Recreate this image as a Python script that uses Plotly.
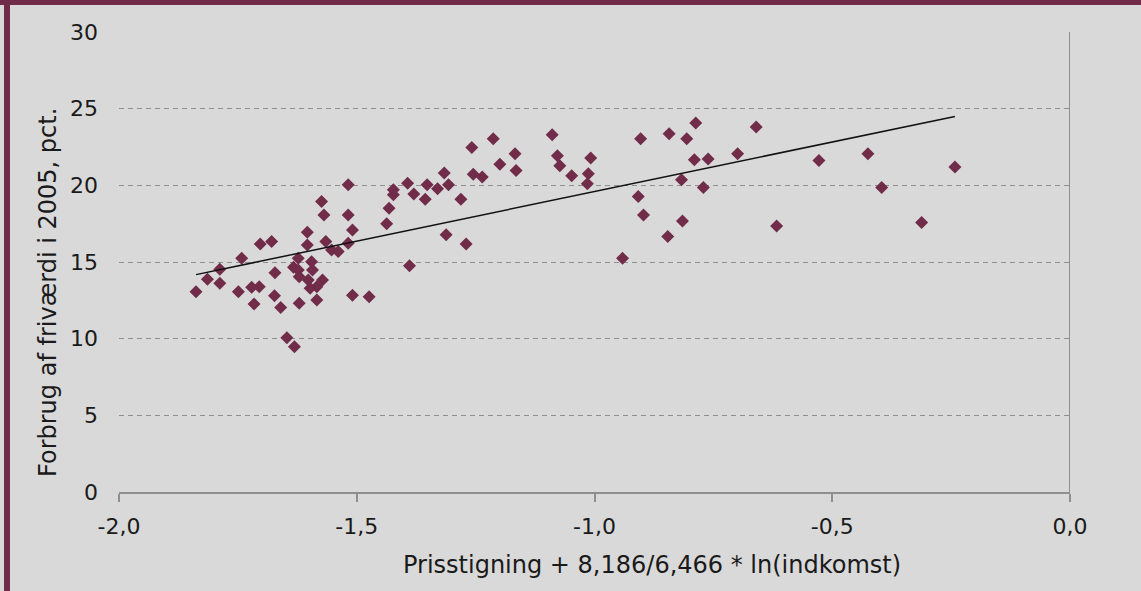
import numpy as np
import plotly.graph_objects as go

# Price growth adjusted for income (x) vs. equity withdrawal in 2005, pct. (y)
prisstigning = [
    -1.838, -1.814, -1.788, -1.788, -1.742, -1.749, -1.703, -1.679, -1.721, -1.705,
    -1.716, -1.672, -1.673, -1.660, -1.647, -1.631, -1.623, -1.633, -1.623, -1.621,
    -1.621, -1.604, -1.604, -1.595, -1.593, -1.602, -1.598, -1.584, -1.584, -1.572,
    -1.574, -1.569, -1.565, -1.553, -1.539, -1.518, -1.518, -1.509, -1.509, -1.518,
    -1.474, -1.437, -1.432, -1.423, -1.423, -1.393, -1.380, -1.389, -1.356, -1.352,
    -1.330, -1.316, -1.307, -1.312, -1.281, -1.270, -1.258, -1.255, -1.236, -1.213,
    -1.199, -1.167, -1.165, -1.089, -1.078, -1.073, -1.048, -1.008, -1.013, -1.015,
    -0.903, -0.908, -0.897, -0.941, -0.843, -0.806, -0.787, -0.790, -0.761, -0.817,
    -0.771, -0.815, -0.846, -0.699, -0.660, -0.617, -0.528, -0.425, -0.396, -0.312,
    -0.242,
]
forbrug = [
    13.06, 13.87, 14.53, 13.61, 15.24, 13.06, 16.18, 16.33, 13.35, 13.39,
    12.26, 14.30, 12.80, 12.04, 10.06, 9.47, 15.24, 14.66, 14.48, 14.04,
    12.31, 16.94, 16.11, 15.02, 14.48, 13.83, 13.29, 13.39, 12.52, 13.83,
    18.94, 18.07, 16.33, 15.79, 15.68, 20.03, 18.07, 12.83, 17.09, 16.22,
    12.74, 17.49, 18.51, 19.38, 19.71, 20.14, 19.44, 14.76, 19.10, 20.03,
    19.77, 20.80, 20.03, 16.77, 19.10, 16.18, 22.47, 20.73, 20.54, 23.04,
    21.38, 22.06, 20.97, 23.30, 21.93, 21.27, 20.62, 21.78, 20.75, 20.10,
    23.04, 19.27, 18.07, 15.24, 23.36, 23.04, 24.06, 21.67, 21.71, 20.36,
    19.86, 17.68, 16.66, 22.06, 23.80, 17.35, 21.62, 22.06, 19.86, 17.57,
    21.19,
]

# Fitted trend: forbrug = TREND_INTERCEPT + TREND_SLOPE * prisstigning
TREND_SLOPE = 6.466
TREND_INTERCEPT = 26.06

x_ticks = [-2.0, -1.5, -1.0, -0.5, 0.0]
x_tick_labels = ["-2,0", "-1,5", "-1,0", "-0,5", "0,0"]
y_ticks = [0, 5, 10, 15, 20, 25, 30]

MAROON = "#712c4a"
BG = "#d9d9d9"
AXIS_GREY = "#8f8f8f"
FONT = "DejaVu Sans"

W, H = 1141, 591
ML, MR, MT, MB = 119, 71, 32, 99
PW, PH = W - ML - MR, H - MT - MB


def px_x(px):
    return (px - ML) / PW


def px_y(py):
    return (MT + PH - py) / PH


trend_x = np.array([min(prisstigning), max(prisstigning)])
trend_y = TREND_INTERCEPT + TREND_SLOPE * trend_x

fig = go.Figure()
fig.add_trace(go.Scatter(
    x=prisstigning, y=forbrug, mode="markers",
    marker=dict(symbol="diamond", size=10, color=MAROON, line=dict(width=0)),
    showlegend=False, hoverinfo="x+y",
))
fig.add_trace(go.Scatter(
    x=trend_x, y=trend_y, mode="lines",
    line=dict(color="#111111", width=1.5),
    showlegend=False, hoverinfo="skip",
))

shapes = [
    # vertical axis line at x = 0
    dict(type="line", xref="x", yref="paper", x0=0, x1=0, y0=0, y1=1,
         line=dict(color=AXIS_GREY, width=2)),
    # frame: top and left maroon bars
    dict(type="rect", xref="paper", yref="paper", x0=px_x(0), x1=px_x(W),
         y0=px_y(5), y1=px_y(0), fillcolor=MAROON, line=dict(width=0), layer="below"),
    dict(type="rect", xref="paper", yref="paper", x0=px_x(4), x1=px_x(10),
         y0=px_y(H), y1=px_y(0), fillcolor=MAROON, line=dict(width=0), layer="below"),
]

annotations = [
    dict(text="Forbrug af friværdi i 2005, pct.", xref="paper", yref="paper",
         x=px_x(48), y=px_y(293), textangle=-90, showarrow=False,
         xanchor="center", yanchor="middle",
         font=dict(family=FONT, size=24, color="#1a1a1a")),
    dict(text="Prisstigning + 8,186/6,466 * ln(indkomst)", xref="paper", yref="paper",
         x=px_x(652), y=px_y(565), showarrow=False,
         xanchor="center", yanchor="middle",
         font=dict(family=FONT, size=24, color="#1a1a1a")),
]

fig.update_layout(
    width=W, height=H,
    margin=dict(l=ML, r=MR, t=MT, b=MB, pad=0),
    paper_bgcolor=BG, plot_bgcolor=BG,
    font=dict(family=FONT, size=22, color="#1a1a1a"),
    shapes=shapes, annotations=annotations,
    xaxis=dict(
        range=[-2.0, 0.0], tickvals=x_ticks, ticktext=x_tick_labels,
        showgrid=False, zeroline=False,
        showline=True, linecolor=AXIS_GREY, linewidth=1.5,
        ticks="outside", ticklen=8, tickwidth=1.5, tickcolor=AXIS_GREY,
        ticklabelstandoff=6, fixedrange=True,
    ),
    yaxis=dict(
        range=[0, 30], tickvals=y_ticks,
        showgrid=True, gridcolor=AXIS_GREY, gridwidth=1, griddash="5px,4px",
        zeroline=False, showline=False,
        ticks="", ticklabelstandoff=20, fixedrange=True,
    ),
)

fig.write_html("out.html")
